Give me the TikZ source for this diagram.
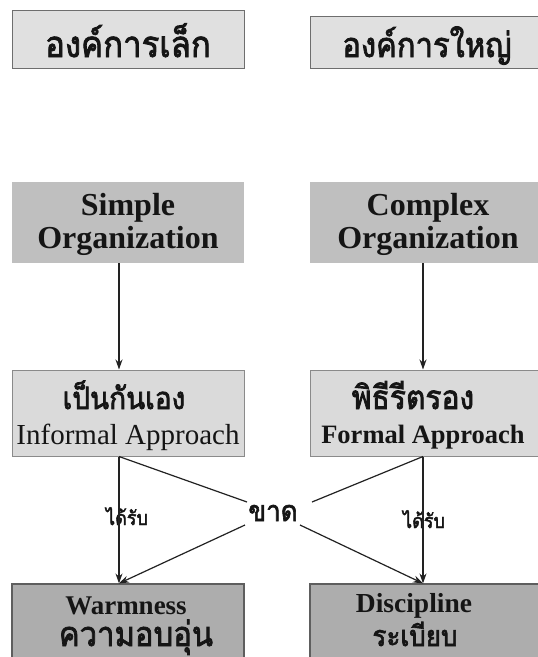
\documentclass[tikz,border=0pt]{standalone}
\usepackage{graphicx}
\usepackage{fontspec}
\setmainfont{Liberation Serif}
\newfontfamily\thai[Script=Thai,FakeBold=2.4]{Loma}
\usetikzlibrary{arrows.meta}
\definecolor{lineC}{HTML}{222222}
\definecolor{topF}{HTML}{E0E0E0}
\definecolor{topD}{HTML}{6E6E6E}
\definecolor{orgF}{HTML}{BFBFBF}
\definecolor{midF}{HTML}{DADADA}
\definecolor{midD}{HTML}{8A8A8A}
\definecolor{botF}{HTML}{ADADAD}
\definecolor{botD}{HTML}{5E5E5E}
\definecolor{txt}{HTML}{151515}
\newcommand{\thtxt}[2]{\scalebox{1}[1.1]{\thai\fontsize{#1}{#1}\selectfont #2}}
\newcommand{\lbsz}[1]{\bfseries\fontsize{#1}{#1}\selectfont}
\newcommand{\lrsz}[1]{\fontsize{#1}{#1}\selectfont}
\tikzset{
  x=1pt, y=-1pt,
  box/.style={rectangle, inner sep=0pt},
  topbox/.style={box, fill=topF, draw=topD, line width=1pt},
  orgbox/.style={box, fill=orgF},
  midbox/.style={box, fill=midF, draw=midD, line width=1pt},
  botbox/.style={box, fill=botF, draw=botD, line width=1.2pt},
  tx/.style={inner sep=0pt, anchor=base, text=txt},
  conn/.style={draw=lineC, line width=1.2pt},
  arr/.style={conn, -{Stealth[length=10pt,width=7pt]}},
}
\begin{document}
\begin{tikzpicture}
\useasboundingbox (0,0) rectangle (538,657);
\fill[white] (0,0) rectangle (538,657);
% boxes
\node[topbox, minimum width=232pt, minimum height=58pt] (small) at (128,39) {};
\node[topbox, minimum width=235pt, minimum height=51.5pt] (large) at (427.5,42.25) {};
\node[orgbox, minimum width=232pt, minimum height=81pt] (simple) at (128,222.5) {};
\node[orgbox, minimum width=235pt, minimum height=81pt] (complex) at (427.5,222.5) {};
\node[midbox, minimum width=232pt, minimum height=86pt] (informal) at (128,413) {};
\node[midbox, minimum width=235pt, minimum height=86pt] (formal) at (427.5,413) {};
\node[botbox, minimum width=232pt, minimum height=84pt] (warm) at (128,626) {};
\node[botbox, minimum width=235pt, minimum height=84pt] (disc) at (427.5,626) {};
% texts
\node[tx] (smallT) at (128,57) {\thtxt{33}{องค์การเล็ก}};
\node[tx] (largeT) at (427,57) {\thtxt{31}{องค์การใหญ่}};
\node[tx, font=\lbsz{32}] (simpleT1) at (128,215) {Simple};
\node[tx, font=\lbsz{32}] (simpleT2) at (128,248) {Organization};
\node[tx, font=\lbsz{32}] (complexT1) at (428,215) {Complex};
\node[tx, font=\lbsz{32}] (complexT2) at (428,248) {Organization};
\node[tx] (informalT1) at (124,409) {\thtxt{28}{เป็นกันเอง}};
\node[tx, font=\lrsz{29}] (informalT2) at (128,444) {Informal Approach};
\node[tx] (formalT1) at (413,409) {\thtxt{30}{พิธีรีตรอง}};
\node[tx, font=\lbsz{26.5}] (formalT2) at (423,443) {Formal Approach};
\node[tx, font=\lbsz{27}] (warmT1) at (126,614) {Warmness};
\node[tx] (warmT2) at (136,646) {\thtxt{31}{ความอบอุ่น}};
\node[tx, font=\lbsz{27.5}] (discT1) at (414,612) {Discipline};
\node[tx] (discT2) at (415,646) {\thtxt{26}{ระเบียบ}};
\node[tx] (lack) at (273,521) {\thtxt{26}{ขาด}};
\node[tx] (getL) at (127,525) {\thtxt{18}{ได้รับ}};
\node[tx] (getR) at (424,528) {\thtxt{18}{ได้รับ}};
% helper coordinates
\coordinate (lx) at (119,0);
\coordinate (rx) at (423,0);
\coordinate (kNW) at (247,502);
\coordinate (kNE) at (312,502);
\coordinate (kSW) at (245,525);
\coordinate (kSE) at (300,525);
% connectors
\draw[arr] (simple.south -| lx) -- (informal.north -| lx);
\draw[arr] (complex.south -| rx) -- (formal.north -| rx);
\draw[arr] (informal.south -| lx) -- (warm.north -| lx);
\draw[arr] (formal.south -| rx) -- (disc.north -| rx);
\draw[conn] (informal.south -| lx) -- (kNW);
\draw[conn] (formal.south -| rx) -- (kNE);
\draw[arr] (kSW) -- (warm.north -| lx);
\draw[arr] (kSE) -- (disc.north -| rx);
\end{tikzpicture}
\end{document}
